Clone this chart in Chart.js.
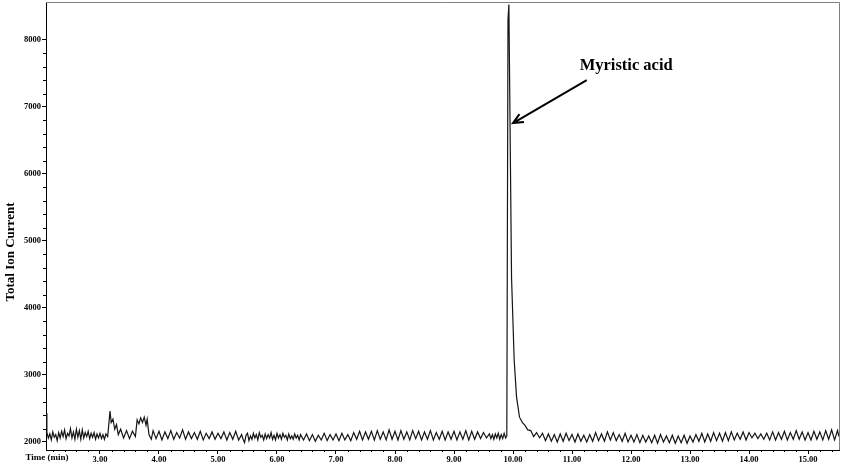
<!DOCTYPE html>
<html><head><meta charset="utf-8">
<script src="https://cdn.jsdelivr.net/npm/chart.js@4.4.1/dist/chart.umd.min.js"></script>
<style>html,body{margin:0;padding:0;background:#fff;}canvas{display:block;}</style>
</head><body>
<canvas id="c" width="843" height="467"></canvas>
<script>
// Retention time (min)
const scanTimes = [
 2.09,
 2.10,2.125,2.15,2.175,2.20,2.225,2.25,2.275,2.30,2.325,
 2.35,2.375,2.40,2.425,2.45,2.475,2.50,2.525,2.55,2.575,
 2.60,2.625,2.65,2.675,2.70,2.725,2.75,2.775,2.80,2.825,
 2.85,2.875,2.90,2.925,2.95,2.975,3.00,3.025,3.05,3.075,
 3.10,3.13,3.17,3.19,3.22,3.25,3.28,3.31,3.35,
 3.40,3.45,3.50,3.55,3.60,3.63,3.66,3.69,3.72,3.75,
 3.78,3.80,3.83,3.87,3.90,3.95,4.00,4.05,4.10,4.15,
 4.20,4.25,4.30,4.35,4.40,4.45,4.50,4.55,4.60,4.65,
 4.70,4.75,4.80,4.85,4.90,4.95,5.00,5.05,5.10,5.15,
 5.20,5.25,5.30,5.35,
 5.40,5.425,5.45,5.475,5.50,5.525,5.55,5.575,5.60,5.625,
 5.65,5.675,5.70,5.725,5.75,5.775,5.80,5.825,5.85,5.875,
 5.90,5.925,5.95,5.975,6.00,6.025,6.05,6.075,6.10,6.125,
 6.15,6.175,6.20,6.225,6.25,6.275,6.30,6.325,6.35,6.375,
 6.40,6.45,6.50,6.55,6.60,6.65,
 6.70,6.75,6.80,6.85,6.90,6.95,7.00,7.05,7.10,7.15,
 7.20,7.25,7.30,7.35,7.40,7.45,7.50,7.55,7.60,7.65,
 7.70,7.75,7.80,7.85,7.90,7.95,8.00,8.05,8.10,8.15,
 8.20,8.25,8.30,8.35,8.40,8.45,8.50,8.55,8.60,8.65,
 8.70,8.75,8.80,8.85,8.90,8.95,9.00,9.05,9.10,9.15,
 9.20,9.25,9.30,9.35,9.40,9.45,9.50,9.55,9.60,9.625,
 9.65,9.675,9.70,9.725,9.75,9.775,9.80,9.825,9.85,9.875,
 9.895,9.915,9.93,9.975,10.02,10.06,10.11,10.16,10.20,10.25,
 10.30,10.35,10.40,10.45,10.50,10.55,10.60,10.65,10.70,10.75,
 10.80,10.85,10.90,10.95,11.00,11.05,11.10,11.15,11.20,11.25,
 11.30,11.35,11.40,11.45,11.50,11.55,11.60,11.65,11.70,11.75,
 11.80,11.85,11.90,11.95,12.00,12.05,12.10,12.15,12.20,12.25,
 12.30,12.35,12.40,12.45,12.50,12.55,12.60,12.65,12.70,12.75,
 12.80,12.85,12.90,12.95,13.00,13.05,13.10,13.15,13.20,13.25,
 13.30,13.35,13.40,13.45,13.50,13.55,13.60,13.65,13.70,13.75,
 13.80,13.85,13.90,13.95,14.00,14.05,14.10,14.15,14.20,14.25,
 14.30,14.35,14.40,14.45,14.50,14.55,14.60,14.65,14.70,14.75,
 14.80,14.85,14.90,14.95,15.00,15.05,15.10,15.15,15.20,15.25,
 15.30,15.35,15.40,15.45,15.50,15.525
];
// Total ion current
const ionCurrent = [
 2430,
 2140,2060,2120,2030,2150,2070,2110,2020,2140,2060,
 2160,2080,2180,2050,2130,2090,2200,2060,2150,2040,
 2190,2070,2170,2040,2180,2060,2140,2080,2160,2050,
 2130,2070,2140,2040,2120,2060,2130,2050,2110,2040,
 2120,2080,2460,2290,2340,2190,2260,2110,2190,
 2060,2170,2050,2160,2080,2330,2270,2360,2290,2370,
 2250,2340,2110,2040,2170,2050,2160,2030,2150,2050,
 2170,2040,2140,2060,2180,2040,2150,2050,2140,2040,
 2160,2030,2130,2050,2150,2040,2130,2050,2150,2030,
 2140,2040,2160,2030,
 2110,2040,1990,2100,2130,2020,2090,2040,2130,2060,
 2110,2030,2140,2070,2100,2030,2120,2050,2110,2060,
 2140,2040,2100,2030,2130,2060,2110,2040,2130,2070,
 2100,2030,2120,2050,2090,2040,2120,2060,2100,2030,
 2110,2030,2120,2020,2110,2010,
 2100,2030,2130,2020,2110,2030,2120,2020,2130,2030,
 2110,2020,2140,2040,2160,2030,2150,2040,2160,2030,
 2170,2040,2150,2030,2180,2040,2160,2030,2170,2040,
 2150,2030,2170,2050,2160,2030,2150,2040,2170,2030,
 2140,2040,2160,2030,2150,2040,2160,2030,2150,2040,
 2170,2030,2160,2040,2150,2050,2140,2060,2120,2050,
 2110,2040,2120,2060,2130,2040,2110,2050,2130,2060,
 2090,8300,8530,4460,3220,2670,2370,2290,2250,2180,
 2170,2080,2140,2060,2130,2020,2120,2010,2110,2000,
 2120,2010,2130,2020,2110,2000,2120,2010,2100,2000,
 2110,2010,2140,2020,2120,2010,2150,2030,2140,2020,
 2110,2010,2130,2000,2100,2000,2110,1990,2100,2000,
 2090,1990,2100,1980,2110,2000,2090,1990,2100,1980,
 2090,1990,2100,1980,2090,2000,2110,2010,2130,2000,
 2120,2010,2140,2020,2130,2010,2140,2020,2150,2030,
 2130,2040,2150,2030,2140,2060,2130,2050,2120,2040,
 2130,2030,2150,2030,2140,2040,2160,2030,2140,2040,
 2170,2040,2150,2030,2140,2030,2160,2040,2150,2030,
 2170,2040,2180,2030,2170,2080
];
const xTickValues = [3,4,5,6,7,8,9,10,11,12,13,14,15];
const yTickValues = [2000,3000,4000,5000,6000,7000,8000];
const xTitle = 'Time (min)';
const yTitle = 'Total Ion Current';
const peakLabel = 'Myristic acid';
const peakLabelAt = [11.13, 7550];   // data units (time, TIC)
const arrowTail = [11.25, 7400];
const arrowTip = [10.0, 6760];

const X_MIN = 2.085, X_MAX = 15.525, Y_MIN = 1880, Y_MAX = 8567;
const SERIF = '"Liberation Serif", "Times New Roman", serif';

const decorations = {
  id: 'decorations',
  afterDraw(chart) {
    const {ctx, chartArea: ca, scales: {x, y}} = chart;
    ctx.save();
    // frame top/right
    ctx.strokeStyle = '#808080';
    ctx.lineWidth = 1;
    ctx.beginPath();
    ctx.moveTo(ca.left, ca.top + 0.5);
    ctx.lineTo(ca.right + 0.5, ca.top + 0.5);
    ctx.lineTo(ca.right + 0.5, ca.bottom);
    ctx.stroke();
    // minor ticks
    ctx.strokeStyle = '#000';
    ctx.beginPath();
    for (let v = 2200; v < 8000; v += 200) {
      if (v % 1000 === 0) continue;
      const py = Math.round(y.getPixelForValue(v)) + 0.5;
      ctx.moveTo(ca.left - 3, py); ctx.lineTo(ca.left, py);
    }
    for (let k = 11; k <= 77; k++) {
      if (k % 5 === 0) continue;
      const px = Math.round(x.getPixelForValue(k / 5)) + 0.5;
      if (px > ca.right) continue;
      ctx.moveTo(px, ca.bottom); ctx.lineTo(px, ca.bottom + 2);
    }
    ctx.stroke();
    // axis titles
    ctx.fillStyle = '#000';
    ctx.font = 'bold 9px ' + SERIF;
    ctx.textAlign = 'center';
    ctx.textBaseline = 'middle';
    ctx.fillText(xTitle, 47, ca.bottom + 8);
    ctx.save();
    ctx.translate(11, 252);
    ctx.rotate(-Math.PI / 2);
    ctx.font = 'bold 13px ' + SERIF;
    ctx.fillText(yTitle, 0, 0);
    ctx.restore();
    // annotation
    ctx.font = 'bold 16.5px ' + SERIF;
    ctx.textAlign = 'left';
    ctx.textBaseline = 'alphabetic';
    ctx.fillText(peakLabel, x.getPixelForValue(peakLabelAt[0]), y.getPixelForValue(peakLabelAt[1]));
    const tx = x.getPixelForValue(arrowTail[0]), ty = y.getPixelForValue(arrowTail[1]);
    const hx = x.getPixelForValue(arrowTip[0]), hy = y.getPixelForValue(arrowTip[1]);
    ctx.strokeStyle = '#000';
    ctx.lineWidth = 2;
    ctx.beginPath();
    ctx.moveTo(tx, ty); ctx.lineTo(hx, hy);
    const ang = Math.atan2(hy - ty, hx - tx);
    const L = 11, spread = 0.42;
    ctx.moveTo(hx - L * Math.cos(ang - spread), hy - L * Math.sin(ang - spread));
    ctx.lineTo(hx, hy);
    ctx.lineTo(hx - L * Math.cos(ang + spread), hy - L * Math.sin(ang + spread));
    ctx.stroke();
    ctx.restore();
  }
};

new Chart(document.getElementById('c'), {
  type: 'line',
  data: {
    datasets: [{
      data: scanTimes.map((t, i) => ({x: t, y: ionCurrent[i]})),
      borderColor: '#151515',
      borderWidth: 1.2,
      pointRadius: 0,
      tension: 0,
      fill: false
    }]
  },
  options: {
    responsive: false,
    animation: false,
    devicePixelRatio: 1,
    layout: {padding: {top: 2, right: 4, left: 0, bottom: 0}},
    plugins: {legend: {display: false}, tooltip: {enabled: false}},
    scales: {
      x: {
        type: 'linear', min: X_MIN, max: X_MAX,
        afterBuildTicks: s => { s.ticks = xTickValues.map(v => ({value: v})); },
        afterFit: s => { s.height = 17; s.paddingLeft = 0; s.paddingRight = 0; },
        ticks: {callback: v => Number(v).toFixed(2), font: {family: SERIF, size: 8.5, weight: 'bold'}, color: '#000', padding: 1, maxRotation: 0, autoSkip: false},
        grid: {display: true, drawOnChartArea: false, drawTicks: true, tickLength: 4, color: '#000'},
        border: {display: true, color: '#000', width: 1}
      },
      y: {
        type: 'linear', min: Y_MIN, max: Y_MAX,
        afterBuildTicks: s => { s.ticks = yTickValues.map(v => ({value: v})); },
        afterFit: s => { s.width = 46; s.paddingTop = 0; s.paddingBottom = 0; },
        ticks: {callback: v => String(v), font: {family: SERIF, size: 8.5, weight: 'bold'}, color: '#000', padding: 1},
        grid: {display: true, drawOnChartArea: false, drawTicks: true, tickLength: 4, color: '#000'},
        border: {display: true, color: '#000', width: 1}
      }
    }
  },
  plugins: [decorations]
});
</script>
</body></html>
